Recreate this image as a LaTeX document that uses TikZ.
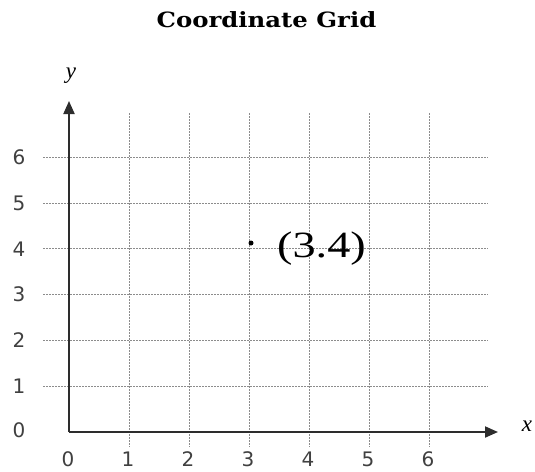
\documentclass[tikz,border=0pt]{standalone}
\usepackage{fontspec}
\setmainfont{Liberation Serif}
\newfontfamily\digitfont{DejaVu Sans}
\newfontfamily\titlefont{DejaVu Serif}
\usetikzlibrary{arrows.meta}
\definecolor{axiscol}{RGB}{45,45,45}
\definecolor{gridcol}{RGB}{140,140,140}
\tikzset{
  gridline/.style={draw=gridcol, line width=1pt, dash pattern=on 2pt off 1pt},
  axisline/.style={draw=axiscol, line width=2pt, -{Triangle[length=13pt,width=11pt]}},
  ticklabel/.style={font=\digitfont\fontsize{20}{20}\selectfont, text=black!75, inner sep=0pt},
  axislabel/.style={font=\itshape\fontsize{23}{23}\selectfont, inner sep=0pt},
  titlelabel/.style={font=\titlefont\bfseries\fontsize{21}{21}\selectfont, inner sep=0pt},
  pointlabel/.style={font=\fontsize{37}{37}\selectfont, inner sep=0pt, anchor=base west},
}
\begin{document}
\begin{tikzpicture}[x=1pt,y=-1pt]
\useasboundingbox (0,0) rectangle (535,471);
% grid
\foreach \i in {1,...,6} {
  \draw[gridline] ({69+60*\i},113) -- ({69+60*\i},447);
  \draw[gridline] (43,{432-45.8*\i}) -- (488,{432-45.8*\i});
}
% axes
\coordinate (O) at (69,432);
\coordinate (ytip) at (69,101);
\coordinate (xtip) at (498,432);
\draw[axisline] (O) -- (ytip);
\draw[axisline] (O) -- (xtip);
% axis labels
\node[axislabel] (ylab) at (71,76) {y};
\node[axislabel] (xlab) at (527,426) {x};
% title
\node[titlelabel] (title) at (266.5,20) {\scalebox{1.16}[1]{Coordinate Grid}};
% tick labels
\foreach \i in {0,...,6} {
  \node[ticklabel] (xt\i) at ({68+60*\i},459) {\i};
}
\node[ticklabel] (yt0) at (19,430) {0};
\foreach \i in {1,...,6} {
  \node[ticklabel] (yt\i) at (19,{432-45.8*\i}) {\i};
}
% point
\fill (251,243) circle (2.5pt) coordinate (P);
\node[pointlabel] (plab) at (277,257) {\scalebox{1.25}[1]{(3.4)}};
\end{tikzpicture}
\end{document}
